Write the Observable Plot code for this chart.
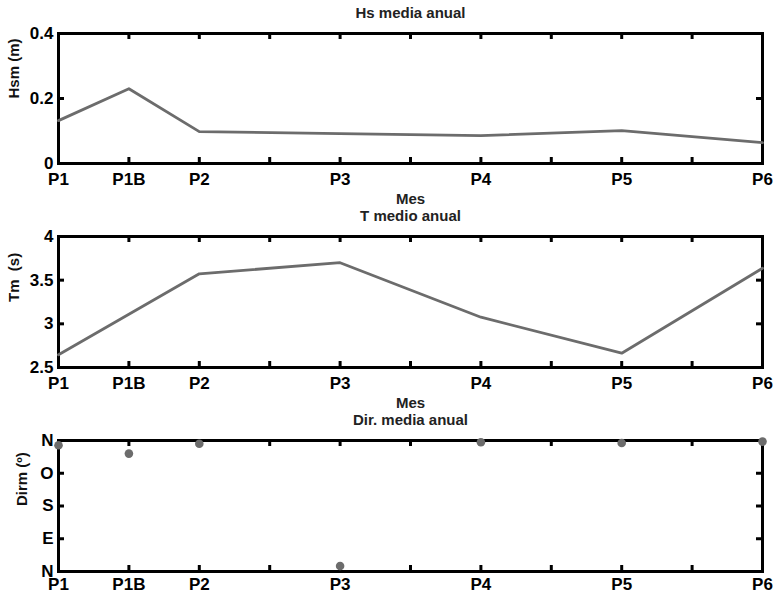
<!DOCTYPE html>
<html><head><meta charset="utf-8">
<script src="https://cdn.jsdelivr.net/npm/d3@7"></script>
<script src="https://cdn.jsdelivr.net/npm/@observablehq/plot@0.6"></script>
<style>
body{margin:0;background:#fff}
#c{width:774px;height:596px;overflow:hidden;position:relative}
#c svg{display:block;overflow:visible}
</style>
</head><body><div id="c"></div>
<script>
// Stations and their positions on the x axis
const stations = ["P1","P1B","P2","P3","P4","P5","P6"];
const stationPos = [1,1.5,2,3,4,5,6];
const xTickMarks = [1,1.5,2,2.5,3,3.5,4,4.5,5,5.5,6];

// Series values
const hsm  = [0.132,0.230,0.098,0.092,0.086,0.101,0.064];
const tm   = [2.645,3.110,3.573,3.700,3.076,2.664,3.637];
const dirm = [347,324,351,15,355,353,357];

// Y ticks
const hsTicks = [0,0.2,0.4];
const hsTickLabels = ["0","0.2","0.4"];
const tmTicks = [2.5,3,3.5,4];
const tmTickLabels = ["2.5","3","3.5","4"];
const dirTicks = [0,90,180,270,360];
const dirTickLabels = ["N","E","S","O","N"];

const FONT = "'Liberation Sans', Arial, Helvetica, sans-serif";
const W = 774, ML = 58, MR = 12;

function panel(o){
  const innerW = W - ML - MR;
  const innerH = o.height - o.marginTop - o.marginBottom;
  const data = stationPos.map((x,i)=>({x, y:o.values[i], name:stations[i]}));
  const ink = "#000";
  const marks = [
    Plot.frame({stroke:ink, strokeWidth:3, strokeOpacity:1}),
    Plot.tickX(xTickMarks,{x:d=>d, insetTop:innerH-6, stroke:ink, strokeWidth:3, strokeOpacity:1}),
    Plot.tickX(xTickMarks,{x:d=>d, insetBottom:innerH-6, stroke:ink, strokeWidth:3, strokeOpacity:1}),
    Plot.tickY(o.yTicks,{y:d=>d, insetRight:innerW-6, stroke:ink, strokeWidth:3, strokeOpacity:1}),
    Plot.tickY(o.yTicks,{y:d=>d, insetLeft:innerW-6, stroke:ink, strokeWidth:3, strokeOpacity:1}),
    Plot.axisX({ticks:stationPos, tickFormat:d=>stations[stationPos.indexOf(d)], tickSize:0, tickPadding:o.xPad, fontSize:17, fontWeight:"bold", fill:"#000", label:null}),
    Plot.axisY({ticks:o.yTicks, tickFormat:d=>o.yLabels[o.yTicks.indexOf(d)], tickSize:0, tickPadding:5, fontSize:17, fontWeight:"bold", fill:"#000", label:null}),
    Plot.text([o.ylabel],{text:d=>d, frameAnchor:"left", dx:o.ylabelDx, rotate:-90, fontSize:15, fontWeight:"bold", fill:"#111", lineAnchor:"middle"}),
    Plot.text([o.title],{text:d=>d, frameAnchor:"top", dy:-20, fontSize:15, fontWeight:"bold", fill:"#222", lineAnchor:"middle"})
  ];
  if (o.mes) marks.push(Plot.text(["Mes"],{text:d=>d, frameAnchor:"bottom", dy:36, fontSize:15, fontWeight:"bold", fill:"#222", lineAnchor:"middle"}));
  if (o.type === "line") marks.push(Plot.line(data,{x:"x", y:"y", stroke:"#6c6c6c", strokeWidth:2.8}));
  else marks.push(Plot.dot(data,{x:"x", y:"y", r:4.3, fill:"#6c6c6c", stroke:"none"}));
  return Plot.plot({
    width:W, height:o.height, marginLeft:ML, marginRight:MR,
    marginTop:o.marginTop, marginBottom:o.marginBottom,
    x:{domain:[1,6]}, y:{domain:o.yDomain},
    style:{fontFamily:FONT, background:"white", overflow:"visible"},
    marks
  });
}

const c = document.getElementById("c");
c.append(panel({title:"Hs media anual", ylabel:"Hsm (m)", ylabelDx:-44, yDomain:[0,0.4], yTicks:hsTicks, yLabels:hsTickLabels, values:hsm, type:"line", height:203, marginTop:33, marginBottom:40, mes:true, xPad:9}));
c.append(panel({title:"T medio anual", ylabel:"Tm  (s)", ylabelDx:-44, yDomain:[2.5,4], yTicks:tmTicks, yLabels:tmTickLabels, values:tm, type:"line", height:204, marginTop:33, marginBottom:40, mes:true, xPad:9}));
c.append(panel({title:"Dir. media anual", ylabel:"Dirm (º)", ylabelDx:-36, yDomain:[0,360], yTicks:dirTicks, yLabels:dirTickLabels, values:dirm, type:"dot", height:189, marginTop:33, marginBottom:25, mes:false, xPad:6}));
</script>
</body></html>
